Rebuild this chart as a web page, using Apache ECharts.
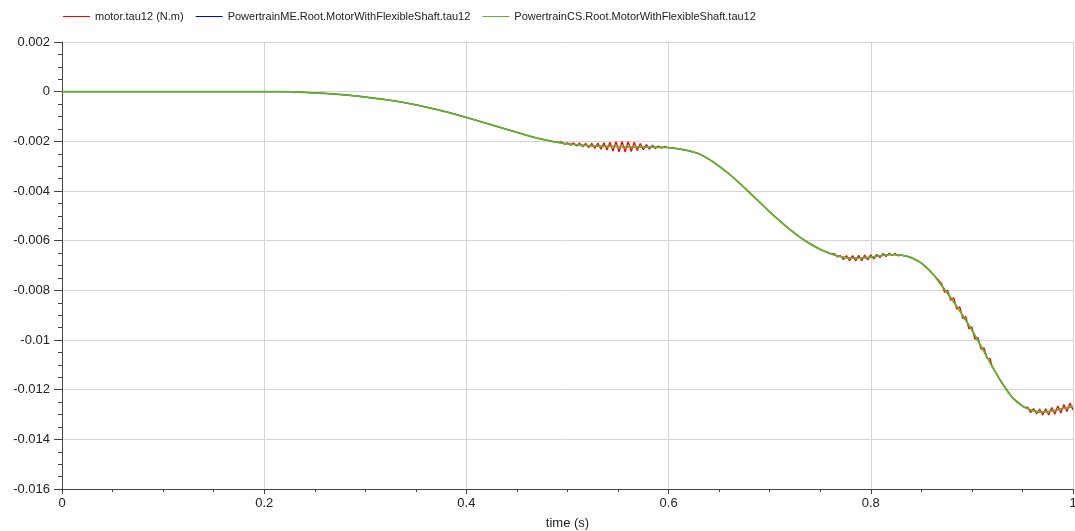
<!DOCTYPE html>
<html>
<head>
<meta charset="utf-8">
<script src="https://cdn.jsdelivr.net/npm/echarts@6/dist/echarts.min.js"></script>
<style>
html,body{margin:0;padding:0;background:#fff;}
#chart{width:1075px;height:531px;}
</style>
</head>
<body>
<div id="chart"></div>
<script>
// Legend / series names
const seriesNames = ['motor.tau12 (N.m)', 'PowertrainME.Root.MotorWithFlexibleShaft.tau12', 'PowertrainCS.Root.MotorWithFlexibleShaft.tau12'];
const xTicks = [0, 0.2, 0.4, 0.6, 0.8, 1];
const yTicks = [0.002, 0, -0.002, -0.004, -0.006, -0.008, -0.01, -0.012, -0.014, -0.016];

// time grid (s), step 0.01
const time = [];
for (let i = 0; i <= 100; i++) time.push(i / 100);

// flexible-shaft torque (N.m) at each time above
const meTau = [
  0,0,0,0,0,0,0,0,0,0,
  0,0,0,0,0,0,0,0,0,0,
  0,0,0,-0.00001,-0.00003,-0.00005,-0.00007,-0.0001,-0.00013,-0.00017,
  -0.00022,-0.00027,-0.00032,-0.00038,-0.00045,-0.00053,-0.00062,-0.00071,-0.00081,-0.00092,
  -0.00104,-0.00116,-0.00128,-0.0014,-0.00152,-0.00164,-0.00176,-0.00187,-0.00196,-0.00204,
  -0.0021,-0.00214,-0.00217,-0.00219,-0.0022,-0.00221,-0.00222,-0.00222,-0.00223,-0.00224,
  -0.00225,-0.0023,-0.00238,-0.0025,-0.00272,-0.003,-0.00332,-0.00368,-0.00406,-0.00445,
  -0.00484,-0.00521,-0.00555,-0.00586,-0.00613,-0.00635,-0.00652,-0.00664,-0.0067,-0.0067,
  -0.00666,-0.0066,-0.00656,-0.00658,-0.00668,-0.0069,-0.00728,-0.0078,-0.00835,-0.00895,
  -0.0096,-0.01032,-0.01106,-0.01175,-0.01232,-0.01266,-0.01284,-0.0129,-0.01285,-0.01276,
  -0.01267
];
const csTau = [
  0,0,0,0,0,0,0,0,0,0,
  0,0,0,0,0,0,0,0,0,0,
  0,0,0,-0.00001,-0.00003,-0.00005,-0.00007,-0.0001,-0.00013,-0.00017,
  -0.00022,-0.00027,-0.00032,-0.00038,-0.00045,-0.00053,-0.00062,-0.00071,-0.00081,-0.00092,
  -0.00104,-0.00116,-0.00128,-0.0014,-0.00152,-0.00164,-0.00176,-0.00187,-0.00196,-0.00204,
  -0.0021,-0.00214,-0.00217,-0.00219,-0.0022,-0.00221,-0.00222,-0.00222,-0.00223,-0.00224,
  -0.00225,-0.0023,-0.00238,-0.0025,-0.00272,-0.003,-0.00332,-0.00368,-0.00406,-0.00445,
  -0.00484,-0.00521,-0.00555,-0.00586,-0.00613,-0.00635,-0.00652,-0.00664,-0.0067,-0.0067,
  -0.00666,-0.0066,-0.00656,-0.00658,-0.00668,-0.0069,-0.00728,-0.0078,-0.00835,-0.00895,
  -0.0096,-0.01032,-0.01106,-0.01175,-0.01232,-0.01266,-0.01284,-0.0129,-0.01285,-0.01276,
  -0.01267
];

// motor.tau12 ripple segments (time, torque)
const rippleA_t = [0.490,0.494,0.497,0.500,0.503,0.506,0.509,0.512,0.515,0.518,0.521,0.524,0.527,0.530,0.533,0.536,0.539,0.542,0.545,0.548,0.551,0.554,0.557,0.560,0.563,0.566,0.569,0.572,0.575,0.578,0.581,0.584,0.587,0.590,0.593,0.596,0.600];
const rippleA_v = [-0.00204,-0.00202,-0.00212,-0.00206,-0.00216,-0.00206,-0.00219,-0.00207,-0.00222,-0.00208,-0.00225,-0.00208,-0.00229,-0.00207,-0.00232,-0.00206,-0.00235,-0.00204,-0.00239,-0.00201,-0.00242,-0.00200,-0.00243,-0.00201,-0.00241,-0.00204,-0.00237,-0.00209,-0.00234,-0.00213,-0.00231,-0.00216,-0.00229,-0.00219,-0.00228,-0.00221,-0.00225];
const rippleB_t = [0.761,0.764,0.767,0.770,0.773,0.776,0.779,0.782,0.785,0.788,0.791,0.794,0.797,0.800,0.803,0.806,0.809,0.812,0.815,0.818,0.821,0.824,0.827,0.830];
const rippleB_v = [-0.00652,-0.00652,-0.00665,-0.00660,-0.00676,-0.00660,-0.00681,-0.00660,-0.00682,-0.00659,-0.00681,-0.00658,-0.00677,-0.00657,-0.00673,-0.00655,-0.00668,-0.00652,-0.00664,-0.00651,-0.00660,-0.00652,-0.00661,-0.00658];
const rippleC_t = [0.870,0.873,0.876,0.879,0.882,0.885,0.888,0.891,0.894,0.897,0.900,0.903,0.906,0.909,0.912,0.915,0.918,0.920];
const rippleC_v = [-0.00772,-0.00808,-0.00800,-0.00840,-0.00830,-0.00876,-0.00866,-0.00914,-0.00906,-0.00955,-0.00947,-0.00997,-0.00990,-0.01037,-0.01032,-0.01074,-0.01075,-0.01106];
const rippleD_t = [0.952,0.955,0.958,0.961,0.964,0.967,0.970,0.973,0.976,0.979,0.982,0.985,0.988,0.991,0.994,0.997,1.000];
const rippleD_v = [-0.01272,-0.01270,-0.01292,-0.01276,-0.01298,-0.01278,-0.01302,-0.01277,-0.01302,-0.01272,-0.01299,-0.01266,-0.01294,-0.01260,-0.01288,-0.01254,-0.01282];

// assemble data
const pairs = (t, v) => t.map((x, i) => [x, v[i]]);
const ripples = [[rippleA_t, rippleA_v], [rippleB_t, rippleB_v], [rippleC_t, rippleC_v], [rippleD_t, rippleD_v]];
const inRipple = x => ripples.some(([t]) => x >= t[0] - 1e-9 && x <= t[t.length - 1] + 1e-9);
let motorData = pairs(time, meTau).filter(p => !inRipple(p[0]));
ripples.forEach(([t, v]) => { motorData = motorData.concat(pairs(t, v)); });
motorData.sort((a, b) => a[0] - b[0]);
const meData = pairs(time, meTau);
const csData = pairs(time, csTau);

const FONT = 'Liberation Sans';
const chart = echarts.init(document.getElementById('chart'), null, {renderer: 'canvas'});
const fmt = v => String(+(+v).toFixed(3));

chart.setOption({
  animation: false,
  backgroundColor: '#ffffff',
  legend: {
    top: 6, left: 58,
    itemWidth: 27, itemHeight: 1, itemGap: 12,
    icon: 'rect',
    textStyle: {fontFamily: FONT, fontSize: 11, color: '#222'},
    data: seriesNames
  },
  grid: {left: 62, right: 2, top: 42, bottom: 42, containLabel: false, outerBoundsMode: 'none'},
  xAxis: {
    type: 'value', min: 0, max: 1, interval: 0.2,
    name: 'time (s)', nameLocation: 'middle', nameGap: 28,
    nameTextStyle: {fontFamily: FONT, fontSize: 13, color: '#222'},
    axisLine: {onZero: false, lineStyle: {color: '#444', width: 1}},
    axisTick: {show: true, length: 5, lineStyle: {color: '#444'}},
    minorTick: {show: true, splitNumber: 4, length: 3, lineStyle: {color: '#444'}},
    axisLabel: {fontFamily: FONT, fontSize: 13, color: '#222', margin: 8, formatter: fmt},
    splitLine: {show: true, lineStyle: {color: '#d4d4d4', width: 1}}
  },
  yAxis: {
    type: 'value', min: -0.016, max: 0.002, interval: 0.002,
    axisLine: {show: true, lineStyle: {color: '#444', width: 1}},
    axisTick: {show: true, length: 8, lineStyle: {color: '#444'}},
    minorTick: {show: true, splitNumber: 4, length: 4, lineStyle: {color: '#444'}},
    axisLabel: {fontFamily: FONT, fontSize: 13, color: '#222', margin: 12, formatter: fmt},
    splitLine: {show: true, lineStyle: {color: '#d4d4d4', width: 1}}
  },
  series: [
    {name: seriesNames[0], type: 'line', data: motorData, showSymbol: false, symbol: 'none',
     lineStyle: {color: '#ff0000', width: 1.3}, itemStyle: {color: '#ff0000'}, z: 2},
    {name: seriesNames[1], type: 'line', data: meData, showSymbol: false, symbol: 'none', smooth: 0.3,
     lineStyle: {color: '#0000ff', width: 1}, itemStyle: {color: '#0000ff'}, z: 3},
    {name: seriesNames[2], type: 'line', data: csData, showSymbol: false, symbol: 'none', smooth: 0.3,
     lineStyle: {color: '#63b32e', width: 1.8}, itemStyle: {color: '#63b32e'}, z: 4}
  ]
});
</script>
</body>
</html>
